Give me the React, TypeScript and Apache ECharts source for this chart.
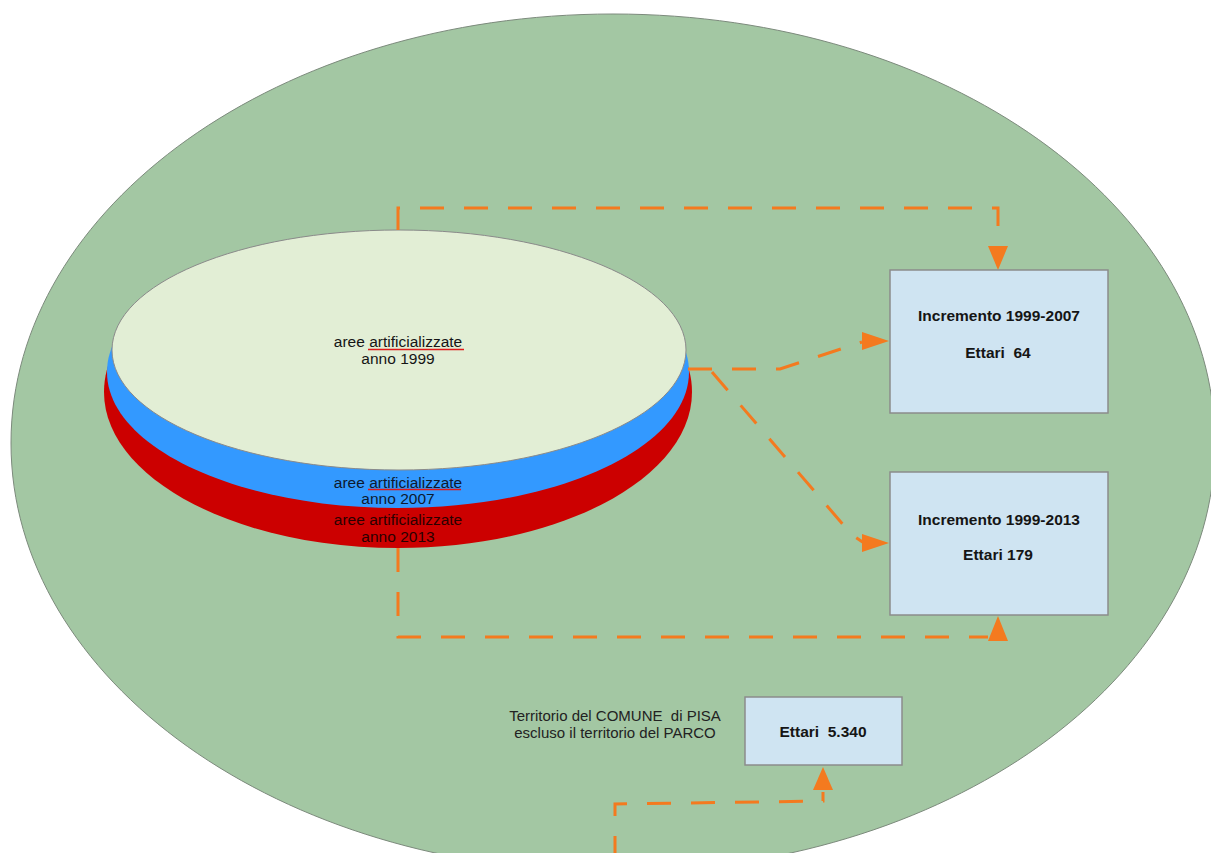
import React, { useEffect, useRef } from "react";
import * as echarts from "echarts";

// ---- data ----
const layerLabels = [
  "aree artificializzate\nanno 1999",
  "aree artificializzate\nanno 2007",
  "aree artificializzate\nanno 2013",
];
const incrementTitles = ["Incremento 1999-2007", "Incremento 1999-2013"];
const incrementValues = ["Ettari  64", "Ettari 179"];
const territoryLabel = ["Territorio del COMUNE  di PISA", "escluso il territorio del PARCO"];
const territoryValue = "Ettari  5.340";

// ---- styles ----
const GREEN = "#a3c7a3";
const ORANGE = "#f47a1f";
const BOX_FILL = "#cfe4f2";
const BOX_STROKE = "#8c8c8c";
const FONT = "Liberation Sans, Arial, sans-serif";

function dashed(points: number[][]) {
  return {
    type: "polyline",
    shape: { points },
    style: { stroke: ORANGE, lineWidth: 3, lineDash: [24, 20], fill: null },
    silent: true,
  };
}
function arrow(points: number[][]) {
  return {
    type: "polygon",
    shape: { points },
    style: { fill: ORANGE, stroke: null },
    silent: true,
  };
}
function txt(text: string, x: number, y: number, size: number, weight = "normal", fill = "#151515", lh = 17) {
  return {
    type: "text",
    x,
    y,
    style: {
      text,
      fill,
      font: `${weight} ${size}px ${FONT}`,
      textAlign: "center",
      textVerticalAlign: "middle",
      lineHeight: lh,
    },
    silent: true,
  };
}
function box(x: number, y: number, w: number, h: number) {
  return {
    type: "rect",
    shape: { x, y, width: w, height: h },
    style: { fill: BOX_FILL, stroke: BOX_STROKE, lineWidth: 1.5 },
    silent: true,
  };
}

export default function App() {
  const ref = useRef<HTMLDivElement>(null);
  useEffect(() => {
    if (!ref.current) return;
    const chart = echarts.init(ref.current, null, { renderer: "svg" });
    const graphic: any[] = [
      // outer territory ellipse
      {
        type: "ellipse",
        shape: { cx: 613, cy: 443, rx: 602, ry: 429 },
        style: { fill: GREEN, stroke: "#7c8a7c", lineWidth: 1 },
        silent: true,
      },
      // disk: red layer (2013)
      { type: "ellipse", shape: { cx: 398, cy: 392, rx: 294, ry: 156 }, style: { fill: "#cc0000" }, silent: true },
      // blue layer (2007)
      { type: "ellipse", shape: { cx: 398, cy: 372, rx: 291, ry: 136 }, style: { fill: "#3399ff" }, silent: true },
      // top face (1999)
      {
        type: "ellipse",
        shape: { cx: 399, cy: 350, rx: 287, ry: 120 },
        style: { fill: "#e2eed5", stroke: "#8a8a8a", lineWidth: 1 },
        silent: true,
      },
      txt(layerLabels[0], 398, 350, 15.5),
      txt(layerLabels[1], 398, 490, 15.5, "normal", "#0d1a30", 16),
      txt(layerLabels[2], 398, 528, 15.5, "normal", "#2a0000", 17),
      // spell-check underlines
      { type: "line", shape: { x1: 368, y1: 349.5, x2: 464, y2: 349.5 }, style: { stroke: "#e01818", lineWidth: 1.5 }, silent: true },
      { type: "line", shape: { x1: 368, y1: 489.5, x2: 461, y2: 489.5 }, style: { stroke: "#e01818", lineWidth: 1.5 }, silent: true },

      // dashed connectors
      dashed([[398, 230], [398, 208], [998, 208], [998, 248]]),
      arrow([[988, 246], [1008, 246], [998, 270]]),
      dashed([[688, 369], [780, 369], [862, 342]]),
      arrow([[862, 332], [862, 350], [889, 341]]),
      dashed([[712, 372], [852, 535], [864, 543]]),
      arrow([[862, 534], [862, 552], [889, 543]]),
      dashed([[398, 548], [398, 637], [988, 637]]),
      arrow([[988, 641], [1008, 641], [998, 616]]),
      dashed([[615, 860], [615, 804], [823, 801], [823, 792]]),
      arrow([[813, 790], [833, 790], [823, 767]]),

      // boxes
      box(890, 270, 218, 143),
      txt(incrementTitles[0], 999, 315, 15.5, "bold"),
      txt(incrementValues[0], 998, 352, 15.5, "bold"),
      box(890, 472, 218, 143),
      txt(incrementTitles[1], 999, 519, 15.5, "bold"),
      txt(incrementValues[1], 998, 554, 15.5, "bold"),
      box(745, 697, 157, 68),
      txt(territoryValue, 823, 731, 15.5, "bold"),
      txt(territoryLabel.join("\n"), 615, 724, 15, "normal", "#222", 17),
    ];
    chart.setOption({
      animation: false,
      backgroundColor: "#ffffff",
      graphic,
    });
    return () => chart.dispose();
  }, []);
  return (
    <div
      ref={ref}
      style={{ position: "fixed", left: 0, top: 0, width: 1211, height: 853 }}
    />
  );
}
